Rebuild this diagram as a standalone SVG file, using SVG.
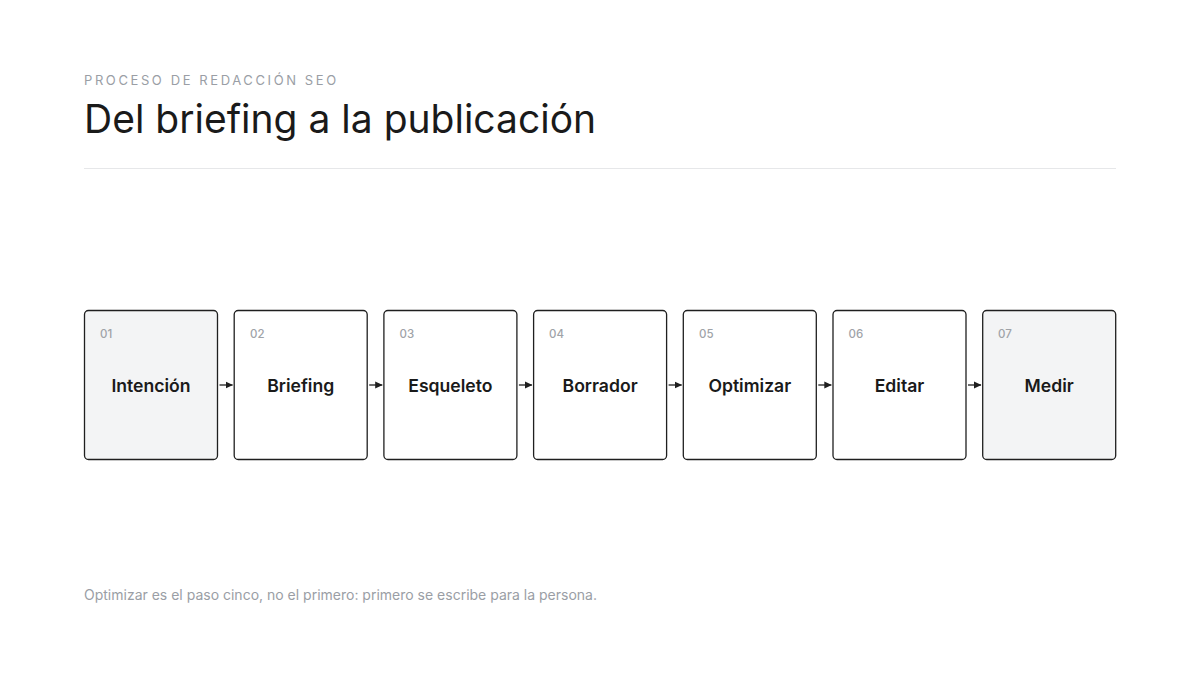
<svg xmlns="http://www.w3.org/2000/svg" width="1200" height="675" viewBox="0 0 1200 675">
<style>
text{font-family:Inter,"Liberation Sans",sans-serif}
.kicker{font-size:13px;fill:#9a9ea5;letter-spacing:2.6px}
.title{font-size:39px;fill:#1a1a1a}
.box{fill:#fff;stroke:#1f1f1f;stroke-width:1.3}
.box.alt{fill:#f3f4f5}
.num{font-size:11.5px;fill:#a0a3a8;font-weight:500}
.lbl{font-size:17.6px;font-weight:600;fill:#1a1a1a;text-anchor:middle}
.conn{stroke:#1f1f1f;stroke-width:1.3;fill:none}
.note{font-size:14px;fill:#9a9ea5}
</style>
<defs>
<marker id="ah" viewBox="0 0 8 8" refX="7" refY="4" markerWidth="8" markerHeight="8" markerUnits="userSpaceOnUse" orient="auto">
<path d="M0,0.5 L7.5,4 L0,7.5 Z" fill="#1f1f1f"/>
</marker>
</defs>
<rect width="1200" height="675" fill="#fff"/>
<text class="kicker" x="84" y="84.5">PROCESO DE REDACCIÓN SEO</text>
<text class="title" x="84" y="133">Del briefing a la publicación</text>
<line x1="84" y1="168.5" x2="1116" y2="168.5" stroke="#e6e7e9" stroke-width="1"/>
<g id="n1"><rect class="box alt" x="84.5" y="310.5" width="133" height="149" rx="4"/><text class="num" x="100" y="338">01</text><text class="lbl" x="151" y="392">Intención</text></g>
<g id="n2"><rect class="box" x="234.2" y="310.5" width="133" height="149" rx="4"/><text class="num" x="250" y="338">02</text><text class="lbl" x="300.7" y="392">Briefing</text></g>
<g id="n3"><rect class="box" x="383.9" y="310.5" width="133" height="149" rx="4"/><text class="num" x="399.5" y="338">03</text><text class="lbl" x="450.4" y="392">Esqueleto</text></g>
<g id="n4"><rect class="box" x="533.6" y="310.5" width="133" height="149" rx="4"/><text class="num" x="549" y="338">04</text><text class="lbl" x="600.1" y="392">Borrador</text></g>
<g id="n5"><rect class="box" x="683.3" y="310.5" width="133" height="149" rx="4"/><text class="num" x="699" y="338">05</text><text class="lbl" x="749.8" y="392">Optimizar</text></g>
<g id="n6"><rect class="box" x="833" y="310.5" width="133" height="149" rx="4"/><text class="num" x="848.5" y="338">06</text><text class="lbl" x="899.5" y="392">Editar</text></g>
<g id="n7"><rect class="box alt" x="982.7" y="310.5" width="133" height="149" rx="4"/><text class="num" x="998" y="338">07</text><text class="lbl" x="1049.2" y="392">Medir</text></g>
<g id="connectors">
<line class="conn" x1="219.5" y1="385" x2="232.5" y2="385" marker-end="url(#ah)"/>
<line class="conn" x1="369.2" y1="385" x2="382.2" y2="385" marker-end="url(#ah)"/>
<line class="conn" x1="518.9" y1="385" x2="531.9" y2="385" marker-end="url(#ah)"/>
<line class="conn" x1="668.6" y1="385" x2="681.6" y2="385" marker-end="url(#ah)"/>
<line class="conn" x1="818.3" y1="385" x2="831.3" y2="385" marker-end="url(#ah)"/>
<line class="conn" x1="968" y1="385" x2="981" y2="385" marker-end="url(#ah)"/>
</g>
<text class="note" x="84" y="600">Optimizar es el paso cinco, no el primero: primero se escribe para la persona.</text>
</svg>
